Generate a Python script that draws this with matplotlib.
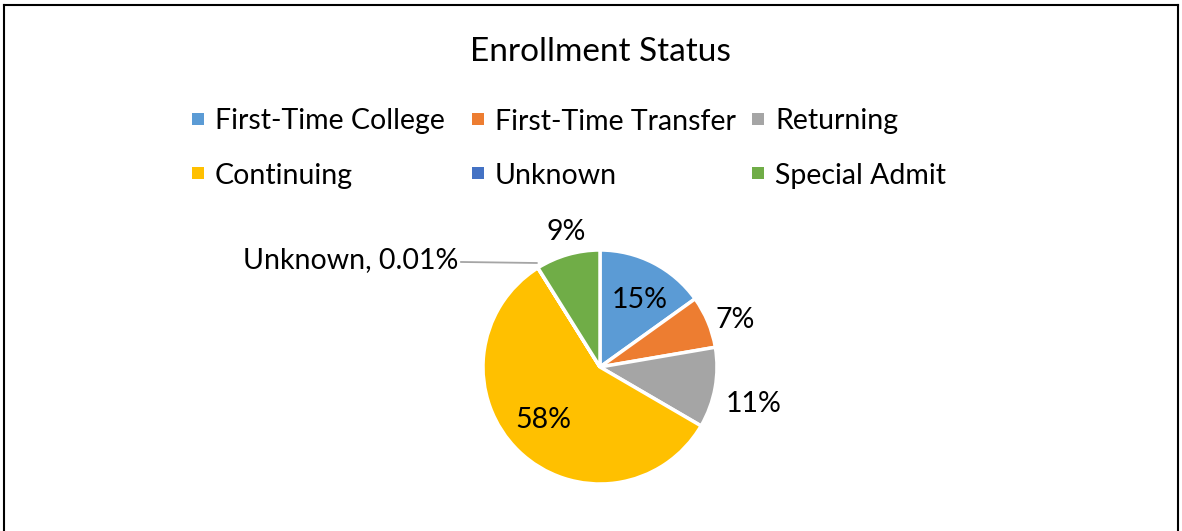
import matplotlib
matplotlib.use("Agg")
import matplotlib.pyplot as plt
from matplotlib.patches import Rectangle
from matplotlib.lines import Line2D

categories = ["First-Time College", "First-Time Transfer", "Returning",
              "Continuing", "Unknown", "Special Admit"]
values = [15.1, 7.2, 11.1, 57.7, 0.01, 8.9]
colors = ["#5B9BD5", "#ED7D31", "#A5A5A5", "#FFC000", "#4472C4", "#70AD47"]
title = "Enrollment Status"

plt.rcParams['font.family'] = ['Lato', 'DejaVu Sans']

W, H = 1182, 531
fig = plt.figure(figsize=(W / 100, H / 100), dpi=100)


def fx(px):
    return px / W


def fy(py):
    return 1 - py / H


# border lines (left, top, right)
for xs, ys in [([3.5, 3.5], [531, 5]), ([3.5, 1177.5], [5, 5]), ([1177.5, 1177.5], [5, 531])]:
    fig.add_artist(Line2D([fx(x) for x in xs], [fy(y) for y in ys], color="black",
                          lw=1.5, transform=fig.transFigure))

fig.text(fx(600), fy(52), title, ha="center", va="center", fontsize=24)

# manual legend, row-wise, 3 columns
col_x = [192, 472, 752]
row_y = [119, 173]
for i, (lab, c) in enumerate(zip(categories, colors)):
    row, col = divmod(i, 3)
    x0, y0 = col_x[col], row_y[row]
    fig.add_artist(Rectangle((fx(x0), fy(y0 + 6)), 12 / W, 12 / H, facecolor=c,
                             edgecolor="none", transform=fig.transFigure))
    fig.text(fx(x0 + 23), fy(y0), lab, ha="left", va="center_baseline", fontsize=20.5)

# pie axes: center (600,367), radius ~117 px
r = 117
cx, cy = 600, 367
ax = fig.add_axes([fx(cx - r), fy(cy + r), 2 * r / W, 2 * r / H])
ax.pie(values, colors=colors, startangle=90, counterclock=False,
       wedgeprops=dict(edgecolor="white", linewidth=2.5))
ax.set_xlim(-1, 1)
ax.set_ylim(-1, 1)
ax.set_aspect("equal")
ax.set_axis_off()


def ax_xy(px, py):
    return (px - cx) / r, -(py - cy) / r


# label centres (pixels) for each slice
label_pos = [(640, 298), (735, 318), (754, 402), (543, 417), None, (566, 230)]
for i, v in enumerate(values):
    if label_pos[i] is None:
        continue
    x, y = ax_xy(*label_pos[i])
    ax.text(x, y, f"{round(v):d}%", ha="center", va="center_baseline",
            fontsize=20.5, clip_on=False)

# Unknown label with leader line
ui = categories.index("Unknown")
ax.annotate(f"{categories[ui]}, {values[ui]}%",
            xy=ax_xy(537, 263), xytext=ax_xy(458, 258),
            ha="right", va="center_baseline", fontsize=20.5,
            arrowprops=dict(arrowstyle="-", color="#A5A5A5", lw=1.3,
                            shrinkA=0, shrinkB=0),
            annotation_clip=False)

fig.savefig("out.png", dpi=100, facecolor="white")
